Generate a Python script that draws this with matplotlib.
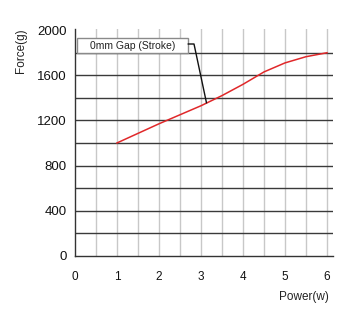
import matplotlib
matplotlib.use("Agg")
import matplotlib.pyplot as plt
from matplotlib.patches import Rectangle

plt.rcParams['font.family'] = ['Liberation Sans', 'DejaVu Sans']

power = [1, 2, 3, 3.5, 4, 4.5, 5, 5.5, 6]
force = [1000, 1170, 1330, 1420, 1520, 1630, 1710, 1765, 1800]
x_ticks = [0, 1, 2, 3, 4, 5, 6]
y_ticks = [0, 400, 800, 1200, 1600, 2000]
label_text = "0mm Gap (Stroke)"
x_label = "Power(w)"
y_label = "Force(g)"
point_power = 3.13
point_force = 1357

fig = plt.figure(figsize=(3.52, 3.16), dpi=100)
ax = fig.add_axes([75/352, (316-255.7)/316, (333-75)/352, (255.7-29)/316])
xmax = 258/42
ymax = 2000*(255.7-29)/(255.7-30.2)
ax.set_xlim(0, xmax)
ax.set_ylim(0, ymax)

# vertical light grid every 0.5
for xv in [i*0.5 for i in range(1, 13)]:
    ax.plot([xv, xv], [0, ymax], color='#c8c8c8', lw=1.0, zorder=1)
# horizontal dark grid every 200
for yv in range(200, 2000, 200):
    ax.plot([0, xmax], [yv, yv], color='#3a3a3a', lw=1.0, zorder=2)

ax.plot(power, force, color='#e0282a', lw=1.1, zorder=4)

for s in ['top', 'right']:
    ax.spines[s].set_visible(False)
for s in ['left', 'bottom']:
    ax.spines[s].set_color('#333333')
    ax.spines[s].set_linewidth(1.0)
ax.spines['bottom'].set_bounds(0, xmax)

ax.set_xticks(x_ticks)
ax.set_yticks(y_ticks)
ax.tick_params(axis='both', length=0, colors='#111111')
ax.tick_params(axis='y', labelsize=9.5, pad=6)
ax.tick_params(axis='x', labelsize=8.5, pad=11)

fig.text(329/352, 1-296.7/316, x_label, ha='right', va='center', fontsize=8.5, color='#222222')
fig.text(21/352, 1-51/316, y_label, ha='center', va='center', rotation=90, fontsize=8.5, color='#222222')

# annotation box
px = lambda x: (x-75)/42
py = lambda y: (255.7-y)/22.55*200
bx0, bx1, by0, by1 = px(76.7), px(188.3), py(53.3), py(38.3)
ax.add_patch(Rectangle((bx0, by0), bx1-bx0, by1-by0, facecolor='white', edgecolor='#8a8a8a', lw=1.0, zorder=5))
ax.text((bx0+bx1)/2, (by0+by1)/2, label_text, ha='center', va='center', fontsize=7.5, color='#222222', zorder=6)
ax.plot([bx1, px(194), point_power], [py(44), py(44), point_force], color='#111111', lw=1.0, zorder=5)

fig.savefig('out.png', dpi=100)
